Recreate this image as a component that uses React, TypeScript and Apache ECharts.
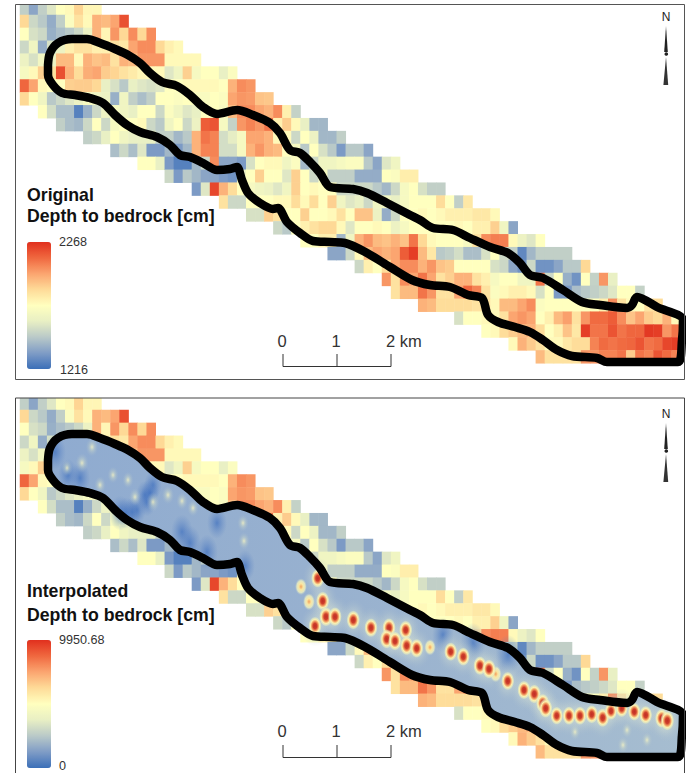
import React, { useEffect, useRef } from "react";
import * as echarts from "echarts";

// Original depth to bedrock [cm] per grid row (row 0 is northernmost); each row starts at the column in rowStarts
const rowStarts = [0,0,0,0,0,0,0,0,2,4,7,10,13,16,19,22,25,28,31,34,37,40,41,44,48,51,54,57];
const row00 = [1500,1374,1500,1584,1742,1763,1889,1774,1774];
const row01 = [1879,1532,1479,1395,1500,1721,1847,1763,1973,1952,2005,2194];
const row02 = [1742,1563,1532,1405,1447,1479,1532,1637,1973,1774,2037,1879,2058,1879,2058];
const row03 = [1532,1658,1395,1563,1637,1795,1847,1847,1795,1795,1847,1826,2005,2058,2058,1879,1795,1763];
const row04 = [1637,1563,1668,1637,1952,1952,1763,1973,1931,1952,1847,1973,1952,2037,2037,2037,1763,1763,1763,1763];
const row05 = [1689,1763,1900,1847,2194,1973,1868,1984,2005,1910,1889,1847,1816,1774,1763,1763,1584,1658,1900,1689,1742,1742,1616,1721];
const row06 = [2142,2005,1763,1742,1742,1900,1910,1910,1879,1616,1563,1479,1616,1584,1563,1584,1742,1742,1763,1763,1763,1763,1742,1973,2058,2037];
const row07 = [1879,1742,1658,1479,1532,1584,1637,1689,1658,1637,1405,1658,1500,1447,1500,1742,1742,1721,1742,1710,1710,1742,1721,2005,2037,2026,1931,1921];
const row08 = [1742,1553,1447,1447,1269,1405,1532,1637,1689,1658,1616,1742,1742,1532,1721,1658,1584,1616,1742,1742,1700,1952,2058,2058,2005,1973,2058,1795,1511];
const row09 = [1500,1447,1426,1532,1742,1532,1689,1742,1742,1763,1532,1479,1658,1742,1532,1637,2163,2184,1689,1511,2037,2079,2037,2110,1795,1910,1763,1616,1426,1426];
const row10 = [1500,1532,1616,1742,1658,1616,1616,1616,1500,1500,1426,1479,1973,2110,2079,1553,1605,1689,2005,2005,1973,1763,1763,1532,1742,1637,1426,1426,1500];
const row11 = [1447,1532,1447,1584,1342,1342,1426,1342,1426,1973,2079,2079,1553,1553,1689,1973,2037,1973,1952,1742,1689,1479,1742,1563,1479,1342,1479,1479,1374];
const row12 = [1742,1742,1616,1342,1269,1269,1426,1532,2058,1374,1374,1342,1563,1742,1763,1763,1658,1721,1426,1532,1658,1658,1689,1721,1721,1479,1374,1584,1658];
const row13 = [1532,1342,1479,1426,1374,1374,1342,1321,1637,1742,1900,1742,1742,1584,1900,1742,1532,1689,1500,1500,1500,1395,1395,1395,1742,1721,1805,1805];
const row14 = [1342,1584,2215,1973,1868,1742,1689,1658,1637,1584,1658,1900,1742,1763,1742,1742,1532,1532,1532,1532,1479,1426,1532,1689,1742,1563,1500,1500];
const row15 = [1847,1532,1532,1742,1742,1742,1763,1763,1868,1763,1868,1742,1900,1658,1584,1616,1532,1658,1658,1616,1689,1742,1742,1742,1868,1742,1500,1826];
const row16 = [1563,1563,1900,1847,1742,1742,1900,1742,1742,1763,1847,1742,1931,1931,1637,1395,1532,1742,1742,1763,1742,1763,1795,1795,1795,1826,1826,1763];
const row17 = [1532,1479,1742,1795,1847,1879,1879,1763,1584,1742,1742,1763,1742,1637,1689,1742,1742,1742,1742,1742,1763,1742,1795,1795,1900,1658,1374];
const row18 = [1742,1742,1795,1795,1426,1658,1973,2037,1952,1931,1973,1931,2110,1879,1763,1742,1742,1742,1689,1847,2058,2089,2089,1763,1637,1584,1742];
const row19 = [1374,1374,1532,1763,1952,2005,1973,2005,2163,2236,1952,1826,1479,1500,1553,1447,1447,1563,1742,1532,1500,1290,1426,1500,1500,1500,1500];
const row20 = [1532,1795,1742,1868,2005,2058,2058,1973,2037,1931,1910,1742,1742,1742,1742,1563,1532,1374,1321,1532,1321,1321,1374,1479,1479,1879];
const row21 = [2037,1847,2058,2005,2110,2005,1847,1900,1973,1973,1847,1795,1689,1742,1742,1658,1658,2110,1532,1742,1405,1321,1742,1511,2037,1616];
const row22 = [1847,1952,1952,2110,2037,1847,1847,2005,2142,2079,1847,1721,1763,1795,1795,1763,1563,1742,1342,1342,1447,1479,1500,1532,1584,1742,1742,1511];
const row23 = [1973,1952,1868,1868,1868,1868,1847,1847,1763,1952,1952,2005,2058,1721,1742,1742,1742,1742,1742,1742,1795,2058,1847,1763,1742,1847,1868];
const row24 = [1563,1742,1742,1763,1763,1847,2005,2037,2005,1742,1795,1952,2016,1847,2037,2131,2131,2163,2058,1931,2005,1910,1879,1973,1763];
const row25 = [1742,1763,1868,1910,1952,1973,1868,1742,1795,1931,1826,2236,2110,2110,2184,2110,2142,2142,2247,2236,2037,2110];
const row26 = [1763,1973,1910,1847,1763,1763,1826,1868,1868,2079,2131,2110,2131,2142,2184,2110,2131,2215,2236];
const row27 = [1952,1847,1847,1847,1847,2037,2037,2079,2079,2110,1910,2110,2079,2184,2131,2079];
const depthRows = [row00,row01,row02,row03,row04,row05,row06,row07,row08,row09,row10,row11,row12,row13,row14,row15,row16,row17,row18,row19,row20,row21,row22,row23,row24,row25,row26,row27];

// Valley outline in map units
const outlineX = [48,50,58,72,87,100,115,128,140,150,162,177,190,203,217,237,253,270,280,290,300,310,320,330,353,367,387,410,420,433,453,470,490,508,520,530,543,563,582,600,627,632,637,657,683,682,678,640,607,597,572,557,543,530,515,498,488,482,468,450,430,412,390,367,345,330,313,300,287,278,273,260,248,242,237,230,217,203,190,180,170,157,140,127,115,103,90,75,62,53,48,48];
const outlineY = [65,53,43,39,39,43,49,55,63,73,82,86,95,107,114,110,115,123,133,150,153,162,173,187,189,193,203,215,220,228,230,238,247,253,263,275,278,290,302,305,308,305,297,307,320,340,362,362,362,358,356,350,340,332,327,322,315,298,295,287,285,280,267,253,243,242,241,233,222,208,209,203,193,180,167,169,170,163,157,155,145,137,132,125,115,103,98,95,93,85,75,65];

// Interpolated raster features (map units, depth in cm)
const hotX = [317.7,322.7,326,335,315,353.3,371,389,405.7,386.7,395,406.7,416.7,450.7,463.3,480,489,507.7,524,534.3,542.7,545.7,556.7,569,580,591.7,602.7,611,621.7,634.3,645.7,661.7,667.3];
const hotY = [183.3,206,221.7,221.7,231,225,232.7,232.7,235,244,246,250.7,253.3,256.7,261.7,270.7,274,286,295,299,308.3,313.3,320.7,320.7,320.7,319.3,322.7,316,313.3,316.7,320,323.3,325.7];
const hotDepth = [9200,9300,9800,9500,9000,9400,9300,9500,9300,9600,9400,9500,9400,9000,8800,9300,9600,9000,9100,9400,9500,9500,8500,9000,9000,8800,9300,8400,8400,8600,8800,9600,9950];
const warmX = [309,301,430,495.7];
const warmY = [206.7,191.7,252.3,279];
const warmDepth = [5800,5600,5400,5800];
const paleX = [92,82,100,113,128,135,153,168,182,67,193,243,244,575,623,647,627];
const paleY = [52,68,90,80,85,102,107,100,106,73,113,128,146,337,350,345,335];
const paleDepth = [3900,4300,3400,3100,3100,3500,4400,3800,3300,3100,3200,3300,3500,3100,3300,3000,3000];
const lowX = [55,68,80,153,147,137,132,217,182,190,207,245,443,473,508,145,150,126,120];
const lowY = [57,80,83,90,107,115,117,128,137,148,157,171,240,248,260,100,98,118,118];
const lowDepth = [300,200,200,100,100,100,100,200,300,300,300,200,300,500,500,100,100,200,300];

const legendOriginal = ["2268", "1216"];
const legendInterpolated = ["9950.68", "0"];
const scaleLabels = ["0", "1", "2 km"];
const rampColors = ["#3b6fb8","#7f9cc6","#b9c9c8","#e8efc4","#ffffbf","#fedb98","#fba570","#f0683f","#e1301e"];

const FONT = "Liberation Sans";
const cols = Array.from({ length: 73 }, (_, i) => String(i));
const rows = Array.from({ length: 28 }, (_, i) => String(i));
const cells: number[][] = [];
depthRows.forEach((r, y) => r.forEach((v, i) => cells.push([rowStarts[y] + i, y, v])));
const outline = outlineX.map((x, i) => [x, outlineY[i]]);

function northArrow(dy: number) {
  const pts = (p: number[][]) => ({ points: p.map(([x, y]) => [x, y + dy]) });
  return [
    { type: "text", z: 100, x: 666, y: 17 + dy, style: { text: "N", font: `12px ${FONT}`, fill: "#222", align: "center", verticalAlign: "middle" } },
    { type: "polygon", z: 100, shape: pts([[666, 26], [664.2, 52], [667.8, 52]]), style: { fill: "#222" } },
    { type: "circle", z: 100, shape: { cx: 666.3, cy: 54 + dy, r: 1.8 }, style: { fill: "#222" } },
    { type: "polygon", z: 100, shape: pts([[666, 57], [663.4, 85], [668.2, 85]]), style: { fill: "#333" } },
  ];
}

function scaleBar(dy: number, labelY: number) {
  const stroke = { stroke: "#333", lineWidth: 1, fill: "none" };
  const t = (text: string, x: number, align: string) => ({
    type: "text", z: 100, x, y: labelY,
    style: { text, font: `16.5px ${FONT}`, fill: "#333", align, verticalAlign: "middle" },
  });
  return [
    { type: "polyline", z: 100, shape: { points: [[283, 354 + dy], [283, 366.5 + dy], [391, 366.5 + dy], [391, 354 + dy]] }, style: stroke },
    { type: "line", z: 100, shape: { x1: 337, y1: 354 + dy, x2: 337, y2: 366.5 + dy }, style: stroke },
    t(scaleLabels[0], 282, "center"),
    t(scaleLabels[1], 336, "center"),
    t(scaleLabels[2], 386, "left"),
  ];
}

function titleBlock(first: string, y1: number, y2: number) {
  const mk = (text: string, y: number) => ({
    type: "text", z: 100, x: 27, y,
    style: { text, font: `bold 17.7px ${FONT}`, fill: "#111", verticalAlign: "middle" },
  });
  return [mk(first, y1), mk("Depth to bedrock [cm]", y2)];
}

function legendLabel(text: string, y: number, x = 59) {
  return { type: "text", z: 100, x, y, style: { text, font: `12.6px ${FONT}`, fill: "#333", verticalAlign: "middle" } };
}

function spotSeries(data: number[][], stops: any[], w: number, h: number, refDepth: number) {
  return {
    type: "scatter", xAxisIndex: 3, yAxisIndex: 3, data, silent: true, clip: false, z: 4,
    symbolSize: (v: number[]) => {
      const k = Math.sqrt(v[2] / refDepth);
      return [w * k, h * k];
    },
    itemStyle: { color: new echarts.graphic.RadialGradient(0.5, 0.5, 0.5, stops), opacity: 1 },
  };
}

export default function App() {
  const ref = useRef<HTMLDivElement>(null);
  useEffect(() => {
    document.body.style.margin = "0";
    const chart = echarts.init(ref.current!, undefined, { renderer: "svg" });
    const cellSeries = (i: number) => ({
      type: "heatmap", xAxisIndex: i, yAxisIndex: i, data: cells, silent: true, progressive: 0, z: 1,
      itemStyle: { borderWidth: 0 }, emphasis: { disabled: true },
    });
    const lineSeries = (i: number) => ({
      type: "line", xAxisIndex: i, yAxisIndex: i, data: outline, smooth: 0.3, symbol: "none", silent: true, clip: false, z: 6,
      lineStyle: { color: "#000", width: 8.5, join: "round", cap: "round" },
    });
    const catX = (g: number) => ({ type: "category", gridIndex: g, data: cols, show: false });
    const catY = (g: number) => ({ type: "category", gridIndex: g, data: rows, inverse: true, show: false });
    const valX = (g: number) => ({ type: "value", gridIndex: g, min: 20, max: 680.65, show: false });
    const valY = (g: number) => ({ type: "value", gridIndex: g, min: 2.1, max: 363.3, inverse: true, show: false });
    chart.setOption({
      animation: false,
      grid: [
        { left: 20, top: 2.1, width: 660.65, height: 361.2 },
        { left: 20, top: 397.1, width: 660.65, height: 361.2 },
      ],
      xAxis: [catX(0), valX(0), catX(1), valX(1)],
      yAxis: [catY(0), valY(0), catY(1), valY(1)],
      visualMap: [
        { type: "continuous", min: 1216, max: 2268, seriesIndex: [0, 2], calculable: false, hoverLink: false, left: 27, top: 242, padding: 0, itemWidth: 24, itemHeight: 127, inRange: { color: rampColors } },
        { type: "continuous", min: 0, max: 9950.68, seriesIndex: [], calculable: false, hoverLink: false, left: 27, top: 640, padding: 0, itemWidth: 24, itemHeight: 128, inRange: { color: rampColors } },
      ],
      series: [
        cellSeries(0),
        lineSeries(1),
        cellSeries(2),
        {
          type: "custom", xAxisIndex: 3, yAxisIndex: 3, data: [[48, 65]], silent: true, clip: false, z: 3,
          renderItem: (_: any, api: any) => ({
            type: "polygon",
            shape: { points: outline.map((p) => api.coord(p)), smooth: 0.3 },
            style: {
              fill: new echarts.graphic.LinearGradient(0, 0, 1, 0, [
                { offset: 0, color: "#8fabd0" },
                { offset: 0.45, color: "#98b1cf" },
                { offset: 1, color: "#a6bdd0" },
              ]),
            },
          }),
        },
        spotSeries(lowX.map((x, i) => [x, lowY[i], lowDepth[i] + 300]), [
          { offset: 0, color: "rgba(60,110,190,0.7)" },
          { offset: 1, color: "rgba(90,130,195,0)" },
        ], 20, 32, 500),
        spotSeries(hotX.map((x, i) => [x, hotY[i], hotDepth[i]]), [
          { offset: 0, color: "rgba(225,232,205,0.6)" },
          { offset: 0.5, color: "rgba(205,218,210,0.35)" },
          { offset: 1, color: "rgba(170,190,205,0)" },
        ], 30, 42, 9400),
        spotSeries(paleX.map((x, i) => [x, paleY[i], paleDepth[i]]), [
          { offset: 0, color: "rgba(250,246,195,0.8)" },
          { offset: 0.4, color: "rgba(215,225,200,0.4)" },
          { offset: 1, color: "rgba(170,190,205,0)" },
        ], 12, 18, 3600),
        spotSeries(warmX.map((x, i) => [x, warmY[i], warmDepth[i]]), [
          { offset: 0, color: "#f2a05e" },
          { offset: 0.35, color: "#fbe6a0" },
          { offset: 0.7, color: "rgba(245,245,190,0.75)" },
          { offset: 1, color: "rgba(190,205,205,0)" },
        ], 12, 17, 5600),
        spotSeries(hotX.map((x, i) => [x, hotY[i], hotDepth[i]]), [
          { offset: 0, color: "#bf2e24" },
          { offset: 0.28, color: "#cf3f2c" },
          { offset: 0.48, color: "#f09a60" },
          { offset: 0.66, color: "#fdf0ae" },
          { offset: 0.85, color: "rgba(235,240,190,0.55)" },
          { offset: 1, color: "rgba(170,190,205,0)" },
        ], 14, 20, 9400),
        lineSeries(3),
      ],
      graphic: [
        { type: "rect", z: 99, shape: { x: 0, y: 0, width: 692, height: 4.5 }, style: { fill: "#fff" } },
        { type: "rect", z: 99, shape: { x: 0, y: 380, width: 692, height: 18 }, style: { fill: "#fff" } },
        { type: "rect", z: 100, shape: { x: 15.5, y: 4.5, width: 669, height: 375 }, style: { fill: "none", stroke: "#555", lineWidth: 1 } },
        { type: "rect", z: 100, shape: { x: 15.5, y: 398, width: 669, height: 380 }, style: { fill: "none", stroke: "#444", lineWidth: 1 } },
        ...titleBlock("Original", 195, 216),
        ...titleBlock("Interpolated", 591, 615),
        legendLabel(legendOriginal[0], 242),
        legendLabel(legendOriginal[1], 370, 60),
        legendLabel(legendInterpolated[0], 640),
        legendLabel(legendInterpolated[1], 766),
        ...scaleBar(0, 341),
        ...scaleBar(391, 731),
        ...northArrow(0),
        ...northArrow(397),
      ],
    });
    return () => chart.dispose();
  }, []);
  return <div ref={ref} style={{ width: 692, height: 773 }} />;
}
